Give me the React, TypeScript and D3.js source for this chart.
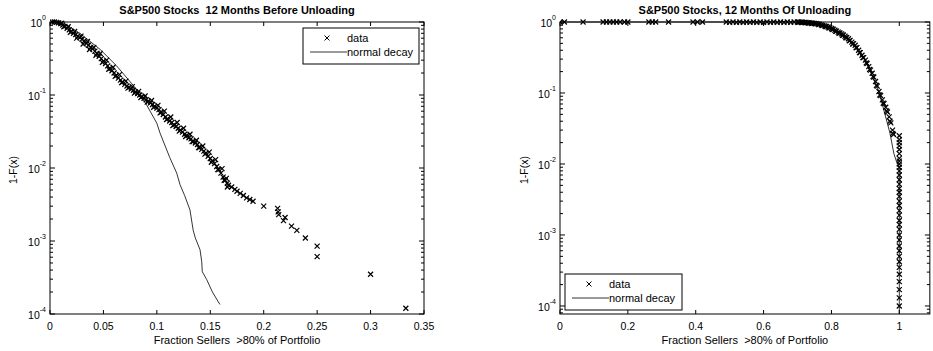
import React from "react";
import * as d3 from "d3";

const W = 933;
const H = 351;
const FONT = "'Liberation Sans', Arial, Helvetica, sans-serif";

const leftTitle = "S&P500 Stocks  12 Months Before Unloading";
const rightTitle = "S&P500 Stocks, 12 Months Of Unloading";
const xLabelText = "Fraction Sellers  >80% of Portfolio";
const yLabelText = "1-F(x)";
const legendLabels = ["data", "normal decay"];

const leftXTicks = [0, 0.05, 0.1, 0.15, 0.2, 0.25, 0.3, 0.35];
const leftXTickLabels = ["0", "0.05", "0.1", "0.15", "0.2", "0.25", "0.3", "0.35"];
const rightXTicks = [0, 0.2, 0.4, 0.6, 0.8, 1];
const rightXTickLabels = ["0", "0.2", "0.4", "0.6", "0.8", "1"];
const yTickExps = [0, -1, -2, -3, -4];

// Left panel: empirical 1-F(x) (data) and normal decay
const leftDataX = [
  0.002, 0.004, 0.006, 0.008, 0.01, 0.012, 0.014, 0.016, 0.018, 0.02,
  0.022, 0.024, 0.026, 0.028, 0.03, 0.032, 0.034, 0.036, 0.038, 0.04,
  0.042, 0.044, 0.046, 0.048, 0.05, 0.052, 0.054, 0.056, 0.058, 0.06,
  0.062, 0.064, 0.066, 0.068, 0.07, 0.072, 0.074, 0.076, 0.078, 0.08,
  0.082, 0.084, 0.086, 0.088, 0.09, 0.092, 0.094, 0.096, 0.098, 0.1,
  0.102, 0.104, 0.106, 0.108, 0.11, 0.112, 0.114, 0.116, 0.118, 0.12,
  0.122, 0.124, 0.126, 0.128, 0.13, 0.132, 0.134, 0.136, 0.138, 0.14,
  0.142, 0.144, 0.146, 0.148, 0.15, 0.152, 0.154, 0.156, 0.158, 0.16,
  0.162, 0.164, 0.166, 0.167, 0.17, 0.173, 0.175, 0.178, 0.181, 0.184,
  0.187, 0.19,
  0.013, 0.019, 0.025, 0.031, 0.037, 0.043, 0.049, 0.055, 0.061, 0.067,
  0.073, 0.079, 0.085, 0.091, 0.097, 0.103, 0.109, 0.115, 0.121, 0.127,
  0.133, 0.139, 0.145, 0.151, 0.157, 0.163, 0.166,
  0.011, 0.017, 0.023, 0.029, 0.035, 0.041, 0.047, 0.053, 0.059, 0.065,
  0.071, 0.077, 0.083, 0.089, 0.095, 0.101, 0.107, 0.113, 0.119, 0.125,
  0.131, 0.137, 0.143, 0.149, 0.155, 0.161, 0.165,
  0.2, 0.213, 0.2135, 0.214, 0.2185, 0.22, 0.226, 0.231, 0.239, 0.25, 0.25, 0.3, 0.333,
];
const leftDataY = [
  1.0, 1.0, 0.99, 0.975, 0.95, 0.91, 0.87, 0.82, 0.78, 0.74,
  0.7, 0.67, 0.64, 0.61, 0.58, 0.55, 0.51, 0.48, 0.45, 0.43,
  0.4, 0.37, 0.34, 0.315, 0.29, 0.27, 0.25, 0.23, 0.215, 0.2,
  0.185, 0.17, 0.16, 0.15, 0.14, 0.133, 0.127, 0.121, 0.116, 0.11,
  0.105, 0.1, 0.095, 0.09, 0.086, 0.082, 0.078, 0.074, 0.07, 0.066,
  0.063, 0.058, 0.054, 0.05, 0.047, 0.044, 0.042, 0.039, 0.037, 0.035,
  0.033, 0.031, 0.029, 0.028, 0.026, 0.025, 0.023, 0.022, 0.021, 0.019,
  0.018, 0.017, 0.016, 0.0145, 0.0135, 0.0125, 0.0115, 0.0105, 0.0095, 0.0085,
  0.0075, 0.0068, 0.0062, 0.0058, 0.0055, 0.0051, 0.0048, 0.0045, 0.0042, 0.0039,
  0.0037, 0.0035,
  0.86, 0.72, 0.6, 0.5, 0.42, 0.35, 0.28, 0.225, 0.18, 0.148,
  0.124, 0.106, 0.092, 0.08, 0.068, 0.057, 0.046, 0.038, 0.032, 0.027,
  0.023, 0.019, 0.0155, 0.012, 0.0095, 0.0068, 0.0055,
  0.96, 0.86, 0.74, 0.64, 0.54, 0.45, 0.37, 0.3, 0.24, 0.19,
  0.155, 0.13, 0.112, 0.097, 0.084, 0.072, 0.06, 0.05, 0.042, 0.035,
  0.029, 0.024, 0.02, 0.0165, 0.013, 0.0098, 0.0072,
  0.003, 0.0028, 0.0025, 0.0023, 0.0019, 0.0021, 0.0016, 0.0014, 0.0011, 0.00085, 0.00061, 0.00035, 0.00012,
];
const leftFitX = [
  0.004, 0.0156, 0.028, 0.047, 0.0624, 0.078, 0.09, 0.1, 0.103, 0.112,
  0.1186, 0.1217, 0.126, 0.131, 0.134, 0.136, 0.1404, 0.142, 0.1425, 0.1467, 0.152, 0.159,
];
const leftFitY = [
  1.0, 0.91, 0.7, 0.42, 0.25, 0.135, 0.075, 0.041, 0.03, 0.014,
  0.0085, 0.0059, 0.0042, 0.00266, 0.0014, 0.0011, 0.00076, 0.00052, 0.00038, 0.000295, 0.0002, 0.000135,
];

// Right panel
const rightDataX = [
  0.0, 0.013, 0.068, 0.127, 0.137, 0.147, 0.157, 0.167, 0.177, 0.19, 0.2,
  0.262, 0.272, 0.282, 0.32, 0.392, 0.405, 0.42,
  0.49, 0.5, 0.51, 0.52, 0.53, 0.54, 0.55, 0.56, 0.57, 0.58, 0.59, 0.6,
  0.61, 0.62, 0.63, 0.64, 0.65, 0.66, 0.67, 0.68, 0.69,
  0.7, 0.705, 0.71, 0.715, 0.72, 0.725, 0.73, 0.735, 0.74, 0.745,
  0.75, 0.755, 0.76, 0.765, 0.77, 0.775, 0.78, 0.785, 0.79, 0.795,
  0.8, 0.805, 0.81, 0.815, 0.82, 0.825, 0.83, 0.835, 0.84, 0.845,
  0.85, 0.855, 0.86, 0.865, 0.87, 0.875, 0.88, 0.885, 0.89, 0.895,
  0.9, 0.905, 0.91, 0.915, 0.92, 0.925, 0.93, 0.935, 0.94, 0.945,
  0.95, 0.955, 0.96, 0.965, 0.97, 0.975, 0.98, 0.983,
  0.7025, 0.7125, 0.7225, 0.7325, 0.7425, 0.7525, 0.7625, 0.7725, 0.7825, 0.7925,
  0.8025, 0.8125, 0.8225, 0.8325, 0.8425, 0.8525, 0.8625, 0.8725, 0.8825, 0.8925,
  0.9025, 0.9125, 0.9225, 0.9325, 0.9425, 0.9525, 0.9625, 0.9725, 0.9805,
  1, 1, 1, 1, 1, 1, 1, 1, 1, 1, 1, 1, 1, 1, 1, 1, 1, 1,
  1, 1, 1, 1, 1, 1, 1, 1, 1, 1, 1, 1, 1, 1, 1, 1, 1, 1,
];
const rightDataY = [
  1, 1, 1, 1, 1, 1, 1, 1, 1, 1, 1,
  1, 1, 1, 1, 1, 1, 1,
  1, 0.99, 1, 0.99, 1, 0.99, 1, 0.99, 1, 0.99, 1, 0.99,
  1, 0.99, 1, 0.99, 1, 0.99, 1, 0.99, 1,
  1.0, 0.998, 0.995, 0.992, 0.989, 0.985, 0.98, 0.974, 0.968, 0.962,
  0.955, 0.948, 0.94, 0.926, 0.912, 0.896, 0.88, 0.865, 0.85, 0.83,
  0.81, 0.79, 0.77, 0.745, 0.72, 0.7, 0.68, 0.655, 0.63, 0.605,
  0.58, 0.55, 0.52, 0.495, 0.47, 0.435, 0.4, 0.37, 0.34, 0.315,
  0.29, 0.26, 0.235, 0.21, 0.19, 0.167, 0.145, 0.125, 0.105, 0.092,
  0.08, 0.071, 0.063, 0.054, 0.046, 0.038, 0.03, 0.026,
  0.99, 0.985, 0.978, 0.965, 0.952, 0.94, 0.92, 0.893, 0.86, 0.825,
  0.785, 0.74, 0.695, 0.65, 0.6, 0.545, 0.49, 0.435, 0.37, 0.315,
  0.265, 0.215, 0.17, 0.128, 0.094, 0.072, 0.056, 0.04, 0.027,
  0.025, 0.022, 0.02, 0.018, 0.016, 0.014, 0.012, 0.011, 0.01, 0.009,
  0.008, 0.007, 0.006, 0.0052, 0.0045, 0.004, 0.0035, 0.003,
  0.0026, 0.0022, 0.0019, 0.0016, 0.0014, 0.0012, 0.001, 0.00085, 0.0007, 0.0006,
  0.0005, 0.00042, 0.00035, 0.00028, 0.00022, 0.00017, 0.00013, 0.0001,
];
const rightFitX = [0, 0.7, 0.75, 0.8, 0.85, 0.9, 0.94, 0.9726, 0.984, 0.992, 1.0, 1.0];
const rightFitY = [1, 1, 0.955, 0.81, 0.58, 0.29, 0.105, 0.027, 0.014, 0.0107, 0.0092, 0.00007];

const MARK = "M-2.5,-2.5L2.5,2.5M-2.5,2.5L2.5,-2.5";

function Panel(props: any) {
  const { x, y, dataX, dataY, fitX, fitY, xTicks, xTickLabels, title, legendBox, clipId, yLabelX } = props;
  const [x0, x1] = x.range();
  const [yb, yt] = y.range();
  const [d0, d1] = y.domain();
  const minor: number[] = [];
  for (let k = -5; k <= 0; k++) {
    for (let m = 2; m <= 9; m++) {
      const v = m * Math.pow(10, k);
      if (v > d0 && v < d1) minor.push(v);
    }
  }
  const line = d3
    .line<number>()
    .x((_, i) => x(fitX[i]))
    .y((_, i) => y(fitY[i]));
  const lb = legendBox;
  const pre = { whiteSpace: "pre" as const };
  return (
    <g>
      <defs>
        <clipPath id={clipId}>
          <rect x={x0} y={yt - 3} width={x1 - x0} height={yb - yt + 3} />
        </clipPath>
      </defs>
      <text x={(x0 + x1) / 2} y={14} textAnchor="middle" fontSize={11} fontWeight="bold" fontFamily={FONT} style={pre}>
        {title}
      </text>
      <g clipPath={`url(#${clipId})`}>
        <path d={line(fitX) || ""} fill="none" stroke="#000" strokeWidth={0.8} />
        {dataX.map((v: number, i: number) => (
          <path key={i} d={MARK} transform={`translate(${x(v)},${y(dataY[i])})`} stroke="#000" strokeWidth={1.2} fill="none" />
        ))}
      </g>
      <rect x={x0} y={yt} width={x1 - x0} height={yb - yt} fill="none" stroke="#000" strokeWidth={1} />
      {xTicks.map((t: number, i: number) => (
        <g key={"xt" + i}>
          <line x1={x(t)} x2={x(t)} y1={yb} y2={yb - 4} stroke="#000" />
          <line x1={x(t)} x2={x(t)} y1={yt} y2={yt + 4} stroke="#000" />
          <text x={x(t)} y={330} textAnchor="middle" fontSize={10.5} fontFamily={FONT}>
            {xTickLabels[i]}
          </text>
        </g>
      ))}
      {yTickExps.map((e: number) => {
        const v = Math.pow(10, e);
        const py = y(v);
        return (
          <g key={"yt" + e}>
            <line x1={x0} x2={x0 + 5} y1={py} y2={py} stroke="#000" />
            <line x1={x1} x2={x1 - 5} y1={py} y2={py} stroke="#000" />
            <text x={x0 - 4} y={py + 5} textAnchor="end" fontSize={10.5} fontFamily={FONT}>
              10
              <tspan dy={-7} fontSize={7}>
                {String(e)}
              </tspan>
            </text>
          </g>
        );
      })}
      {minor.map((v, i) => (
        <g key={"mn" + i}>
          <line x1={x0} x2={x0 + 3} y1={y(v)} y2={y(v)} stroke="#000" />
          <line x1={x1} x2={x1 - 3} y1={y(v)} y2={y(v)} stroke="#000" />
        </g>
      ))}
      <text x={(x0 + x1) / 2} y={344} textAnchor="middle" fontSize={11} fontFamily={FONT} style={pre}>
        {xLabelText}
      </text>
      <text
        transform={`translate(${yLabelX},170) rotate(-90)`}
        textAnchor="middle"
        fontSize={10.5}
        fontFamily={FONT}
      >
        {yLabelText}
      </text>
      <g>
        <rect x={lb.x} y={lb.y} width={lb.w} height={lb.h} fill="#fff" stroke="#000" strokeWidth={1} />
        <path d={MARK} transform={`translate(${lb.x + 24},${lb.y + 10})`} stroke="#000" fill="none" />
        <text x={lb.x + 44} y={lb.y + 14} fontSize={11} fontFamily={FONT}>
          {legendLabels[0]}
        </text>
        <line x1={lb.x + 7} x2={lb.x + 44} y1={lb.y + 24} y2={lb.y + 24} stroke="#000" strokeWidth={0.8} />
        <text x={lb.x + 44} y={lb.y + 28} fontSize={11} fontFamily={FONT}>
          {legendLabels[1]}
        </text>
      </g>
    </g>
  );
}

export default function App() {
  const xL = d3.scaleLinear().domain([0, 0.35]).range([50, 424]);
  const yL = d3.scaleLog().domain([1e-4, 1]).range([314, 22]);
  const xR = d3.scaleLinear().domain([0, 1.09]).range([560, 560 + 1.09 * 339.3]);
  const yR = d3.scaleLog().domain([Math.pow(10, -4.113), 1]).range([314, 22]);
  return (
    <svg
      width={W}
      height={H}
      viewBox={`0 0 ${W} ${H}`}
      style={{ position: "absolute", left: 0, top: 0, background: "#fff" }}
    >
      <rect x={0} y={0} width={W} height={H} fill="#fff" />
      <Panel
        x={xL}
        y={yL}
        dataX={leftDataX}
        dataY={leftDataY}
        fitX={leftFitX}
        fitY={leftFitY}
        xTicks={leftXTicks}
        xTickLabels={leftXTickLabels}
        title={leftTitle}
        legendBox={{ x: 303, y: 28, w: 116, h: 36 }}
        clipId="clipL"
        yLabelX={17}
      />
      <Panel
        x={xR}
        y={yR}
        dataX={rightDataX}
        dataY={rightDataY}
        fitX={rightFitX}
        fitY={rightFitY}
        xTicks={rightXTicks}
        xTickLabels={rightXTickLabels}
        title={rightTitle}
        legendBox={{ x: 565, y: 274, w: 117, h: 36 }}
        clipId="clipR"
        yLabelX={528}
      />
    </svg>
  );
}
